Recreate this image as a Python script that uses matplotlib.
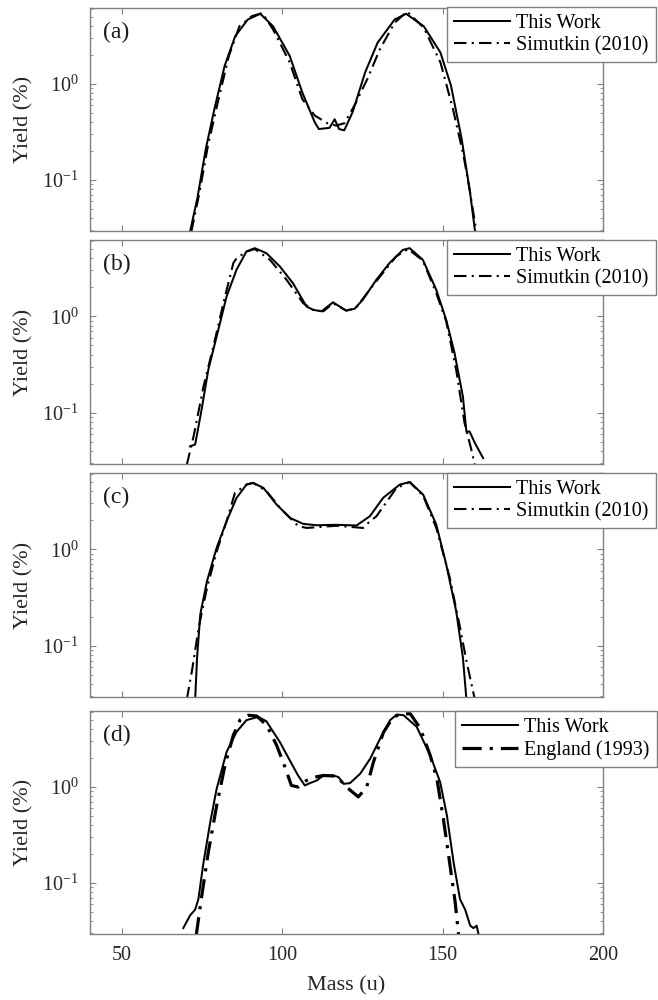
import matplotlib.pyplot as plt
import matplotlib.ticker as mticker

plt.rcParams['font.family'] = ['Liberation Serif', 'DejaVu Serif']
plt.rcParams['mathtext.fontset'] = 'custom'
plt.rcParams['mathtext.rm'] = 'Liberation Serif'
plt.rcParams['axes.unicode_minus'] = False

# ---- data (mass in u, yield in %) ----
# (a)
a_m_work = [71.2, 73.5, 76.1, 78.8, 82.0, 85.3, 89.2, 93.1, 97.1, 102.3, 106.2, 110.1,
            111.4, 114.7, 116.3, 117.7, 119.3, 121.9, 125.8, 129.7, 135.0, 138.6, 144.1,
            149.3, 152.6, 155.9, 158.5, 160.1]
a_y_work = [0.029, 0.065, 0.21, 0.55, 1.55, 3.16, 4.7, 5.4, 4.0, 1.96, 0.82, 0.40,
            0.34, 0.35, 0.43, 0.34, 0.33, 0.51, 1.32, 2.7, 4.7, 5.4, 4.0,
            2.13, 0.96, 0.27, 0.076, 0.029]
a_m_ref = [71.6, 74.2, 76.8, 80.1, 83.3, 86.6, 90.5, 93.8, 97.1, 102.3, 106.2, 110.1,
           114.1, 116.7, 119.3, 122.5, 126.5, 130.4, 135.0, 138.9, 144.1, 149.3, 153.2,
           156.5, 158.5, 160.5]
a_y_ref = [0.029, 0.076, 0.23, 0.70, 1.96, 4.0, 5.1, 5.5, 3.7, 1.68, 0.70, 0.47,
           0.39, 0.37, 0.39, 0.60, 1.13, 2.3, 4.35, 5.7, 3.86, 1.68, 0.55,
           0.18, 0.076, 0.029]

# (b)
b_m_work = [71.2, 72.8, 74.8, 76.9, 79.5, 82.6, 85.7, 88.8, 91.4, 95.0, 99.2, 103.3,
            107.5, 109.6, 112.2, 115.8, 119.9, 122.5, 125.1, 129.3, 133.4, 137.6, 139.7,
            143.8, 148.0, 151.1, 153.7, 156.3, 157.4, 158.4, 160.0, 162.6]
b_y_work = [0.045, 0.047, 0.108, 0.28, 0.62, 1.61, 3.05, 4.72, 5.1, 4.53, 3.3, 2.21,
            1.27, 1.17, 1.13, 1.40, 1.15, 1.2, 1.49, 2.4, 3.57, 4.9, 5.1,
            3.87, 1.89, 0.92, 0.417, 0.148, 0.064, 0.064, 0.049, 0.034]
b_m_ref = [70.2, 72.3, 75.4, 78.5, 81.6, 84.7, 85.7, 88.8, 91.4, 96.1, 101.3, 106.5,
           109.6, 112.8, 115.8, 119.9, 122.9, 127.2, 131.3, 135.5, 139.2, 143.8, 148.0,
           151.1, 154.2, 156.8, 158.9, 160.0]
b_y_ref = [0.029, 0.057, 0.188, 0.49, 1.37, 3.57, 4.0, 4.7, 5.0, 3.87, 2.4, 1.37,
           1.17, 1.13, 1.37, 1.15, 1.22, 1.89, 2.81, 4.19, 5.0, 3.8, 1.74,
           0.89, 0.28, 0.079, 0.042, 0.029]

# (c)
c_m_work = [72.8, 73.4, 74.4, 76.5, 79.5, 82.6, 85.7, 88.8, 90.9, 94.1, 98.2, 102.4,
            106.5, 110.7, 116.9, 123.1, 127.3, 131.4, 136.6, 139.7, 143.9, 148.0, 151.1,
            154.2, 156.3, 157.4]
c_y_work = [0.028, 0.076, 0.213, 0.47, 1.04, 1.96, 3.42, 4.7, 4.9, 4.34, 2.92, 2.12,
            1.84, 1.78, 1.80, 1.77, 2.21, 3.42, 4.7, 5.0, 3.7, 1.81, 0.70,
            0.23, 0.076, 0.028]
c_m_ref = [70.2, 71.8, 73.9, 76.5, 79.5, 82.6, 85.2, 88.8, 90.9, 95.1, 99.3, 103.4,
           105.0, 107.6, 116.9, 125.2, 127.3, 129.3, 135.5, 139.7, 143.9, 148.0, 152.2,
           155.2, 157.4, 160.0]
c_y_ref = [0.028, 0.055, 0.155, 0.40, 0.95, 1.96, 3.85, 4.7, 4.9, 4.0, 2.69, 1.96,
           1.74, 1.67, 1.76, 1.67, 1.96, 2.2, 4.3, 5.0, 3.6, 1.67, 0.51,
           0.168, 0.070, 0.028]

# (d)
d_m_work = [69.1, 71.2, 72.8, 73.8, 75.4, 77.5, 79.5, 82.6, 85.7, 88.8, 92.5, 95.0,
            99.2, 102.3, 104.9, 107.0, 108.6, 110.7, 112.8, 115.9, 117.5, 119.1, 121.1,
            124.3, 127.4, 130.5, 133.6, 135.7, 137.8, 141.9, 146.1, 149.2, 151.3, 153.4,
            155.4, 157.0, 158.6, 159.6, 160.6, 161.2]
d_y_work = [0.034, 0.046, 0.053, 0.068, 0.164, 0.43, 0.96, 2.32, 3.76, 4.98, 5.39, 4.85,
            2.95, 1.9, 1.32, 1.04, 1.1, 1.17, 1.32, 1.32, 1.27, 1.08, 1.1,
            1.38, 1.98, 3.2, 4.98, 5.7, 5.6, 4.24, 2.14, 1.13, 0.51, 0.164,
            0.068, 0.053, 0.036, 0.034, 0.036, 0.029]
d_m_ref = [73.1, 74.7, 76.9, 79.5, 82.1, 84.7, 86.8, 89.4, 92.0, 95.1, 98.2, 100.8,
           102.8, 104.9, 107.5, 109.6, 112.8, 116.9, 120.0, 123.7, 126.3, 128.4, 131.5,
           134.6, 137.8, 139.9, 143.0, 146.1, 148.2, 150.2, 152.3, 153.9, 155.0]
d_y_ref = [0.028, 0.068, 0.21, 0.64, 1.69, 3.47, 5.0, 5.6, 5.5, 4.4, 2.73, 1.62,
           1.04, 1.0, 1.17, 1.26, 1.32, 1.3, 1.0, 0.79, 1.0, 1.82, 3.7,
           5.4, 5.8, 5.8, 4.1, 2.14, 1.22, 0.47, 0.152, 0.063, 0.028]

panels = [
    ('(a)', a_m_work, a_y_work, a_m_ref, a_y_ref, 'Simutkin (2010)'),
    ('(b)', b_m_work, b_y_work, b_m_ref, b_y_ref, 'Simutkin (2010)'),
    ('(c)', c_m_work, c_y_work, c_m_ref, c_y_ref, 'Simutkin (2010)'),
    ('(d)', d_m_work, d_y_work, d_m_ref, d_y_ref, 'England (1993)'),
]

W, H = 658, 1000
fig = plt.figure(figsize=(W / 100, H / 100), dpi=100)

# axes boxes in pixels: (top, bottom)
boxes = [(8, 231), (240, 464), (473, 697), (711, 934)]
leg_pos = [(447, 7), (447, 240), (447, 473), (455, 711)]
left, right = 90, 603
spine_col = '#808080'
dashdot = (0, (6, 2.5, 1.0, 2.5))

for i, (tag, mw, yw, mr, yr, ref_label) in enumerate(panels):
    top, bot = boxes[i]
    ax = fig.add_axes([left / W, 1 - bot / H, (right - left) / W, (bot - top) / H])
    ax.plot(mw, yw, color='black', lw=1.45, label='This Work')
    lw_ref = 2.3 if i == 3 else 1.5
    ax.plot(mr, yr, color='black', lw=lw_ref, linestyle=dashdot, label=ref_label)
    ax.set_yscale('log')
    ax.set_xlim(40, 200)
    ax.set_ylim(0.0295, 6.2)
    ax.set_xticks([50, 100, 150, 200])
    ax.yaxis.set_major_locator(mticker.LogLocator(base=10, numticks=10))
    ax.yaxis.set_minor_locator(mticker.LogLocator(base=10, subs=range(2, 10), numticks=10))
    ax.yaxis.set_minor_formatter(mticker.NullFormatter())
    ax.tick_params(which='both', direction='in', top=True, right=True,
                   colors=spine_col, labelcolor='#262626', labelsize=14.5)
    ax.tick_params(which='major', length=4.5, width=0.8)
    ax.tick_params(which='minor', length=2.5, width=0.6)
    ax.tick_params(axis='y', pad=8)
    ax.tick_params(axis='x', pad=9)
    if i < 3:
        ax.tick_params(axis='x', labelbottom=False)
    for s in ax.spines.values():
        s.set_color(spine_col)
        s.set_linewidth(1.0)
    ax.set_ylabel('Yield (%)', fontsize=16, color='#262626')
    ax.yaxis.set_label_coords(-0.111, 0.5)
    ax.text(0.025, 0.89, tag, transform=ax.transAxes, fontsize=17,
            color='#1a1a1a', ha='left', va='center')
    lx, ly = leg_pos[i]
    leg = ax.legend(loc='upper left', bbox_to_anchor=(lx / W, 1 - ly / H),
                    bbox_transform=fig.transFigure, borderaxespad=0,
                    fontsize=14.5, frameon=True, fancybox=False, framealpha=1,
                    edgecolor=spine_col, handlelength=2.8, handletextpad=0.3,
                    borderpad=0.35, labelspacing=0.15)
    leg.get_frame().set_linewidth(1.0)

fig.text((left + right) / 2 / W, 1 - 986 / H, 'Mass (u)', fontsize=16,
         color='#262626', ha='center', va='center')

fig.savefig('out.png', dpi=100)
